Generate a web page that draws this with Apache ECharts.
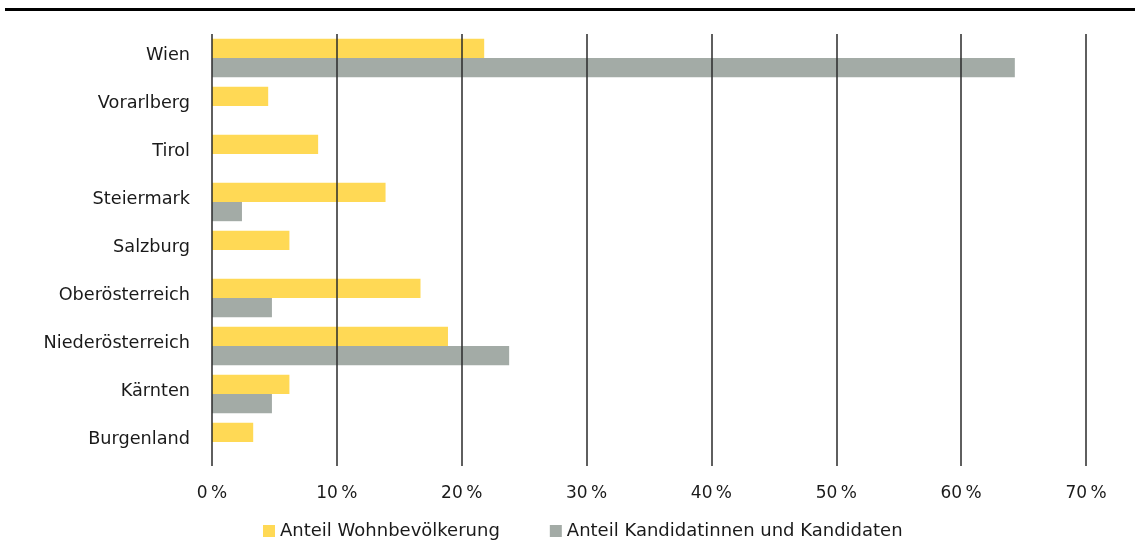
<!DOCTYPE html>
<html><head><meta charset="utf-8">
<script src="https://cdn.jsdelivr.net/npm/echarts@6/dist/echarts.min.js"></script>
<style>html,body{margin:0;padding:0;background:#fff}#c{width:1135px;height:540px}</style>
</head><body><div id="c"></div>
<script>
const categories = ["Burgenland","Kärnten","Niederösterreich","Oberösterreich","Salzburg","Steiermark","Tirol","Vorarlberg","Wien"];
const bevoelkerung = [3.3, 6.2, 18.9, 16.7, 6.2, 13.9, 8.5, 4.5, 21.8];
const kandidaten = [null, 4.8, 23.8, 4.8, null, 2.4, null, null, 64.3];
const seriesNames = ["Anteil Wohnbevölkerung", "Anteil Kandidatinnen und Kandidaten"];
const xTicks = [0, 10, 20, 30, 40, 50, 60, 70];

const font = "DejaVu Sans";
const chart = echarts.init(document.getElementById('c'));
chart.setOption({
  animation: false,
  textStyle: { fontFamily: font },
  graphic: [{ type: 'rect', shape: { x: 5, y: 8, width: 1130, height: 3 }, style: { fill: '#000' } }],
  grid: { left: 212, right: 49, top: 34, bottom: 74, containLabel: false },
  legend: {
    left: 263, top: 522, padding: 0, itemWidth: 12, itemHeight: 12, itemGap: 50,
    icon: 'rect',
    textStyle: { fontFamily: font, fontSize: 18, color: '#1a1a1a' },
    data: seriesNames
  },
  xAxis: {
    type: 'value', min: xTicks[0], max: xTicks[xTicks.length - 1], interval: 10, z: 10,
    axisLine: { show: false }, axisTick: { show: false },
    axisLabel: { margin: 19, fontFamily: font, fontSize: 17, color: '#1a1a1a', formatter: v => v + '\u2009%' },
    splitLine: { show: true, lineStyle: { color: '#2a2a2a', width: 1.5 } }
  },
  yAxis: {
    type: 'category', data: categories,
    axisLine: { show: false }, axisTick: { show: false },
    axisLabel: { margin: 22, fontFamily: font, fontSize: 17.7, color: '#1a1a1a', verticalAlign: 'bottom', lineHeight: 5 }
  },
  series: [
    { name: seriesNames[0], type: 'bar', data: bevoelkerung, itemStyle: { color: '#FFD955' }, barGap: '0%', barCategoryGap: '20%' },
    { name: seriesNames[1], type: 'bar', data: kandidaten, itemStyle: { color: '#A3ABA6' }, barGap: '0%', barCategoryGap: '20%' }
  ]
});
</script></body></html>
